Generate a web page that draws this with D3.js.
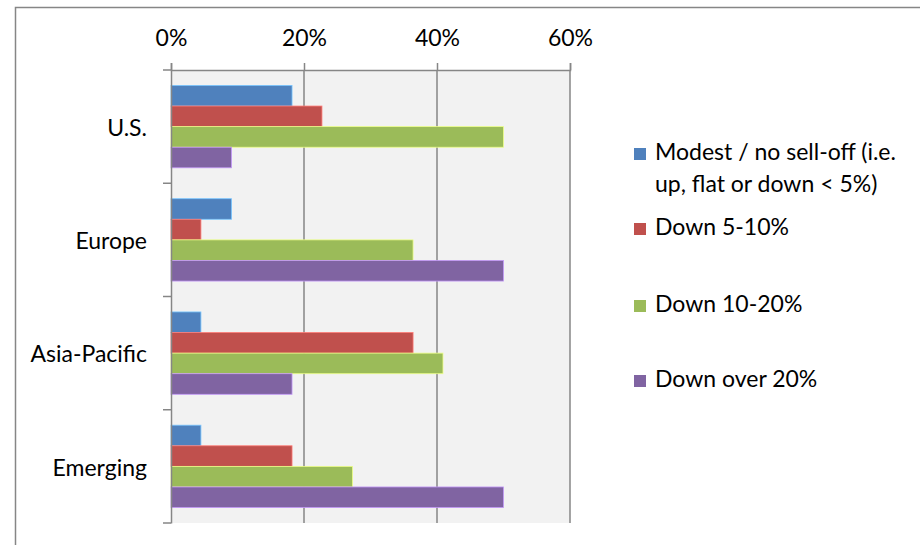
<!DOCTYPE html>
<html>
<head>
<meta charset="utf-8">
<script src="https://cdn.jsdelivr.net/npm/d3@7"></script>
<style>
  body { margin: 0; background: #fff; }
  text { font-family: Lato, "Open Sans", sans-serif; fill: #000; }
</style>
</head>
<body>
<div id="chart"></div>
<script>
// catégories (axe vertical)
const regions = ["U.S.", "Europe", "Asia-Pacific", "Emerging"];

// séries
const seriesNames = [
    "Modest / no sell-off (i.e. up, flat or down < 5%)",
    "Down 5-10%",
    "Down 10-20%",
    "Down over 20%"
];
const seriesLabelLines = [
    ["Modest / no sell-off (i.e.", "up, flat or down < 5%)"],
    ["Down 5-10%"],
    ["Down 10-20%"],
    ["Down over 20%"]
];
const seriesColors = ["#4F81BD", "#C0504D", "#9BBB59", "#8064A2"];

// valeurs en % par région, dans l'ordre des séries
const modestValues = [18.2, 9.1, 4.5, 4.5];
const down5to10Values = [22.7, 4.5, 36.4, 18.2];
const down10to20Values = [50.0, 36.4, 40.9, 27.3];
const downOver20Values = [9.1, 50.0, 18.2, 50.0];

const tickValues = [0, 20, 40, 60];

const allValues = [modestValues, down5to10Values, down10to20Values, downOver20Values];

const fontSize = "23px";
const width = 920, height = 545;
const svg = d3.select("#chart")
    .append("svg")
    .attr("width", width)
    .attr("height", height);

// cadre du graphique
svg.append("rect")
    .attr("x", 15.5)
    .attr("y", 7.5)
    .attr("width", 940)
    .attr("height", 600)
    .attr("fill", "none")
    .attr("stroke", "#868686")
    .attr("stroke-width", 1.5);

const plot = { left: 171, right: 570, top: 70, bottom: 523 };

const x = d3.scaleLinear()
    .domain([0, 60])
    .range([plot.left, plot.right]);

const y = d3.scaleBand()
    .domain(regions)
    .range([plot.top, plot.bottom]);

const ySeries = d3.scaleBand()
    .domain(seriesNames)
    .range([0, y.bandwidth()])
    .paddingOuter(0.75);

// fond de la zone de traçage
svg.append("rect")
    .attr("x", plot.left)
    .attr("y", plot.top)
    .attr("width", plot.right - plot.left)
    .attr("height", plot.bottom - plot.top)
    .attr("fill", "#F2F2F2");

// quadrillage vertical
svg.append("g")
    .selectAll("line")
    .data(tickValues.slice(1))
    .join("line")
    .attr("x1", d => x(d))
    .attr("x2", d => x(d))
    .attr("y1", plot.top)
    .attr("y2", plot.bottom)
    .attr("stroke", "#868686")
    .attr("stroke-width", 1.5);

// barres
const rows = regions.map((r, i) => ({ region: r, values: allValues.map(v => v[i]) }));

const groups = svg.append("g")
    .selectAll("g")
    .data(rows)
    .join("g")
    .attr("transform", d => `translate(0,${y(d.region)})`);

groups.selectAll("rect")
    .data(d => d.values.map((v, j) => ({ series: seriesNames[j], value: v, color: seriesColors[j] })))
    .join("rect")
    .attr("x", x(0))
    .attr("y", d => ySeries(d.series))
    .attr("width", d => x(d.value) - x(0))
    .attr("height", ySeries.bandwidth())
    .attr("fill", d => d.color)
    .attr("stroke", d => d3.color(d.color).brighter(1.2))
    .attr("stroke-width", 0.8);

// axe du haut
const xAxis = svg.append("g")
    .attr("transform", `translate(0,${plot.top})`)
    .call(d3.axisTop(x)
        .tickValues(tickValues)
        .tickFormat(d => d + "%")
        .tickSize(7)
        .tickPadding(17));

xAxis.select(".domain").attr("stroke", "#868686").attr("stroke-width", 1.5);
xAxis.selectAll(".tick line").attr("stroke", "#868686").attr("stroke-width", 1.5);
xAxis.selectAll("text").style("font-size", fontSize).style("font-family", "Lato, sans-serif");

// axe de gauche
const yAxis = svg.append("g")
    .attr("transform", `translate(${plot.left},0)`)
    .call(d3.axisLeft(y).tickSize(0).tickPadding(24));

yAxis.select(".domain").attr("stroke", "#868686").attr("stroke-width", 1.5);
yAxis.selectAll("text")
    .attr("dy", "0.4em")
    .style("font-size", fontSize)
    .style("font-family", "Lato, sans-serif");

// graduations entre les catégories
svg.append("g")
    .selectAll("line")
    .data(regions.map(r => y(r)).concat([plot.bottom]))
    .join("line")
    .attr("x1", plot.left - 8)
    .attr("x2", plot.left)
    .attr("y1", d => d)
    .attr("y2", d => d)
    .attr("stroke", "#868686")
    .attr("stroke-width", 1.5);

// légende (lignes de base du texte)
const legendBaselines = [160, 235, 312, 387];
const legend = svg.append("g")
    .selectAll("g")
    .data(seriesNames)
    .join("g")
    .attr("transform", (d, i) => `translate(634,${legendBaselines[i]})`);

legend.append("rect")
    .attr("x", 0)
    .attr("y", -12)
    .attr("width", 12)
    .attr("height", 12)
    .attr("fill", (d, i) => seriesColors[i]);

legend.append("text")
    .attr("x", 21)
    .attr("y", 0)
    .style("font-size", fontSize)
    .selectAll("tspan")
    .data((d, i) => seriesLabelLines[i])
    .join("tspan")
    .attr("x", 21)
    .attr("y", (d, k) => k * 32)
    .text(d => d);
</script>
</body>
</html>
